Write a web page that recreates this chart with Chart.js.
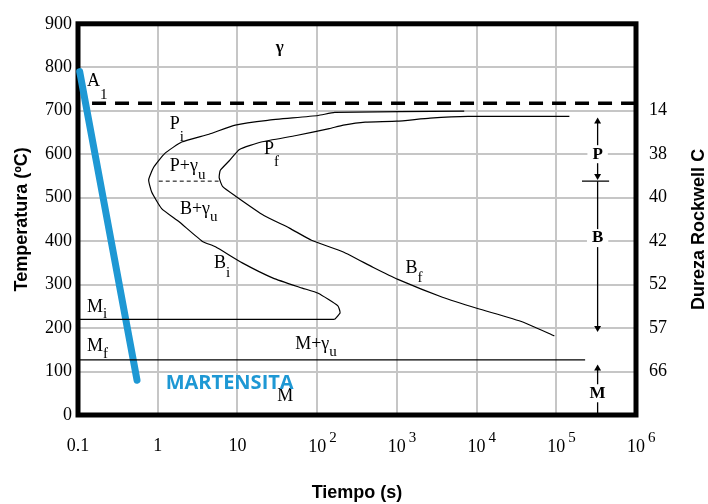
<!DOCTYPE html>
<html>
<head>
<meta charset="utf-8">
<script src="https://cdn.jsdelivr.net/npm/chart.js@4.4.0/dist/chart.umd.min.js"></script>
<style>
  html, body { margin: 0; padding: 0; background: #fff; }
</style>
</head>
<body>
<canvas id="ttt" width="708" height="504"></canvas>
<script>
// axes
const decades = [0.1, 1, 10, 100, 1e3, 1e4, 1e5, 1e6];
const hardnessTemps = [700, 600, 500, 400, 300, 200, 100];
const hardness = [14, 38, 40, 42, 52, 57, 66];

// Pi -> Bi curve (start of transformation)
const startTime = [7000, 166, 103, 24, 9.4, 4.4, 2.0, 1.23, 0.89, 0.77, 0.84, 1.12, 1.84, 3.6, 5.3, 11.5, 28, 65, 103, 182, 194, 166];
const startTemp = [699, 696, 689, 678, 667, 646, 628, 602, 570, 541, 513, 475, 445, 400, 387, 350, 315, 292, 280, 251, 235, 220];

// Pf -> Bf curve (end of transformation)
const endTime = [146000, 7820, 2610, 1000, 401, 213, 142, 54.7, 19.9, 10.6, 7.9, 6.1, 5.9, 6.5, 9.4, 21.5, 45, 85, 213, 500, 1030, 3730, 10300, 38000, 94500];
const endTemp = [687, 687, 683, 676, 674, 667, 659, 643, 628, 611, 585, 563, 546, 526, 504, 459, 430, 402, 375, 340, 312, 271, 245, 214, 182];

// straight lines
const a1Time = [0.15, 1e6], a1Temp = [717, 717];
const miTime = [0.1, 166], miTemp = [220, 220];
const mfTime = [0.1, 2.3e5], mfTemp = [127, 127];
const pbTime = [1.03, 5.8], pbTemp = [538, 538];
const quenchTime = [0.105, 0.55], quenchTemp = [790, 80];

// hardness ranges on the right
const rangeTime = 3.3e5;
const pRange = [675, 550];
const bRange = [538, 200];
const mRange = [107, 0];
const tickTime = [2.1e5, 4.6e5], tickTemp = [538, 538];

const pts = (xs, ys) => xs.map((v, i) => ({ x: v, y: ys[i] }));
const col = (ys) => ys.map(v => ({ x: rangeTime, y: v }));

const serif = '"Liberation Serif", "Times New Roman", serif';
const sans = '"Liberation Sans", Arial, sans-serif';
const blue = '#1e98d4';

const notes = [
  { t: 'γ', x: 34, y: 845, font: 'bold 17px ' + serif, align: 'center' },
  { t: 'A', s: '1', x: 0.13, y: 768, dy: 12 },
  { t: 'P', s: 'i', x: 1.42, y: 670, dy: 11 },
  { t: 'P+γ', s: 'u', x: 1.42, y: 572, dy: 7 },
  { t: 'P', s: 'f', x: 21.5, y: 611, dy: 11 },
  { t: 'B+γ', s: 'u', x: 1.9, y: 473, dy: 6 },
  { t: 'B', s: 'i', x: 5.1, y: 350, dy: 8 },
  { t: 'B', s: 'f', x: 1280, y: 337, dy: 7 },
  { t: 'M', s: 'i', x: 0.13, y: 249, dy: 5 },
  { t: 'M', s: 'f', x: 0.13, y: 158, dy: 6 },
  { t: 'M+γ', s: 'u', x: 53, y: 162, dy: 5 },
  { t: 'M', x: 31.6, y: 44 },
  { t: 'MARTENSITA', x: 1.26, y: 73, font: 'bold 20px "Open Sans", ' + sans, color: blue },
  { t: 'P', x: rangeTime, y: 600, font: 'bold 17px ' + serif, align: 'center', bg: true },
  { t: 'B', x: rangeTime, y: 407, font: 'bold 17px ' + serif, align: 'center', bg: true },
  { t: 'M', x: rangeTime, y: 50, font: 'bold 17px ' + serif, align: 'center', bg: true }
];

const frame = {
  id: 'frame',
  beforeDatasetsDraw(chart) {
    const { ctx, chartArea: a } = chart;
    ctx.save();
    ctx.lineWidth = 5;
    ctx.strokeStyle = '#000';
    ctx.strokeRect(a.left, a.top, a.right - a.left, a.bottom - a.top);
    ctx.restore();
  }
};

const labels = {
  id: 'labels',
  afterDraw(chart) {
    const { ctx, chartArea: a, scales: { x, y } } = chart;
    ctx.save();
    notes.forEach(n => {
      const px = x.getPixelForValue(n.x), py = y.getPixelForValue(n.y);
      ctx.font = n.font || '18px ' + serif;
      ctx.textAlign = n.align || 'left';
      ctx.textBaseline = 'middle';
      const w = ctx.measureText(n.t).width;
      if (n.bg) {
        ctx.fillStyle = '#fff';
        ctx.fillRect(px - w / 2 - 5, py - 9, w + 10, 18);
      }
      ctx.fillStyle = n.color || '#000';
      ctx.fillText(n.t, px, py);
      if (n.s) {
        ctx.font = '15px ' + serif;
        ctx.textBaseline = 'alphabetic';
        ctx.textAlign = 'left';
        ctx.fillText(n.s, px + w, py + 6 + n.dy);
      }
    });
    // time tick labels with powers of ten
    decades.forEach(v => {
      const px = x.getPixelForValue(v);
      const e = Math.round(Math.log10(v));
      ctx.fillStyle = '#000';
      ctx.font = '18px ' + serif;
      ctx.textAlign = 'center';
      ctx.textBaseline = 'middle';
      if (e < 2) {
        ctx.fillText(String(v), px, a.bottom + 31);
      } else {
        ctx.fillText('10', px, a.bottom + 32);
        const w = ctx.measureText('10').width;
        ctx.font = '15px ' + serif;
        ctx.textAlign = 'left';
        ctx.fillText(String(e), px + w / 2 + 3, a.bottom + 23);
      }
    });
    // right axis title, read bottom to top
    ctx.translate(699, (a.top + a.bottom) / 2 + 10);
    ctx.rotate(-Math.PI / 2);
    ctx.font = 'bold 18px ' + sans;
    ctx.textAlign = 'center';
    ctx.fillText('Dureza Rockwell C', 0, 0);
    ctx.restore();
  }
};

const line = (data, extra) => Object.assign({
  data, borderColor: '#000', borderWidth: 1.2, pointRadius: 0, tension: 0.15, fill: false
}, extra || {});

const arrow = (ys, radius, rotation) => line(col(ys), {
  tension: 0, borderWidth: 1.3,
  pointStyle: 'triangle', pointRadius: radius, pointRotation: rotation,
  pointBackgroundColor: '#000', pointBorderColor: '#000', pointBorderWidth: 0
});

const grid = { color: '#c6c6c6', lineWidth: 2, drawTicks: false };

new Chart(document.getElementById('ttt').getContext('2d'), {
  type: 'line',
  data: {
    datasets: [
      line(pts(a1Time, a1Temp), { borderWidth: 3.5, borderDash: [14, 9], tension: 0 }),
      line(pts(startTime, startTemp)),
      line(pts(endTime, endTemp)),
      line(pts(miTime, miTemp), { tension: 0 }),
      line(pts(mfTime, mfTemp), { tension: 0 }),
      line(pts(pbTime, pbTemp), { borderWidth: 1, borderDash: [4, 3], tension: 0 }),
      line(pts(tickTime, tickTemp), { tension: 0 }),
      arrow(pRange, [4, 4], [0, 180]),
      arrow(bRange, [0, 4], [0, 180]),
      arrow(mRange, [4, 0], [0, 0]),
      line(pts(quenchTime, quenchTemp), { borderColor: blue, borderWidth: 7, tension: 0, borderCapStyle: 'round', clip: false })
    ]
  },
  options: {
    responsive: false,
    animation: false,
    layout: { padding: { top: 14, right: 0, bottom: 0, left: 0 } },
    plugins: { legend: { display: false }, tooltip: { enabled: false } },
    scales: {
      x: {
        type: 'logarithmic', min: 0.1, max: 1e6,
        afterBuildTicks: s => { s.ticks = decades.map(v => ({ value: v })); },
        afterFit: s => { s.height = 89; },
        ticks: { display: false },
        grid: grid,
        border: { display: false },
        title: { display: true, text: 'Tiempo (s)', color: '#000', font: { family: sans, size: 18, weight: 'bold' }, padding: 0 }
      },
      y: {
        min: 0, max: 900,
        afterFit: s => { s.width = 78; },
        ticks: { stepSize: 100, padding: 6, color: '#000', font: { family: serif, size: 18 } },
        grid: grid,
        border: { display: false },
        title: { display: true, text: 'Temperatura (ºC)', color: '#000', font: { family: sans, size: 18, weight: 'bold' }, padding: { top: 11, bottom: 0 } }
      },
      y2: {
        position: 'right', min: 0, max: 900,
        afterFit: s => { s.width = 72; },
        ticks: {
          stepSize: 100, padding: 13, color: '#000', font: { family: serif, size: 18 },
          callback: v => { const i = hardnessTemps.indexOf(v); return i >= 0 ? String(hardness[i]) : ''; }
        },
        grid: { drawOnChartArea: false, drawTicks: false },
        border: { display: false }
      }
    }
  },
  plugins: [frame, labels]
});
</script>
</body>
</html>
